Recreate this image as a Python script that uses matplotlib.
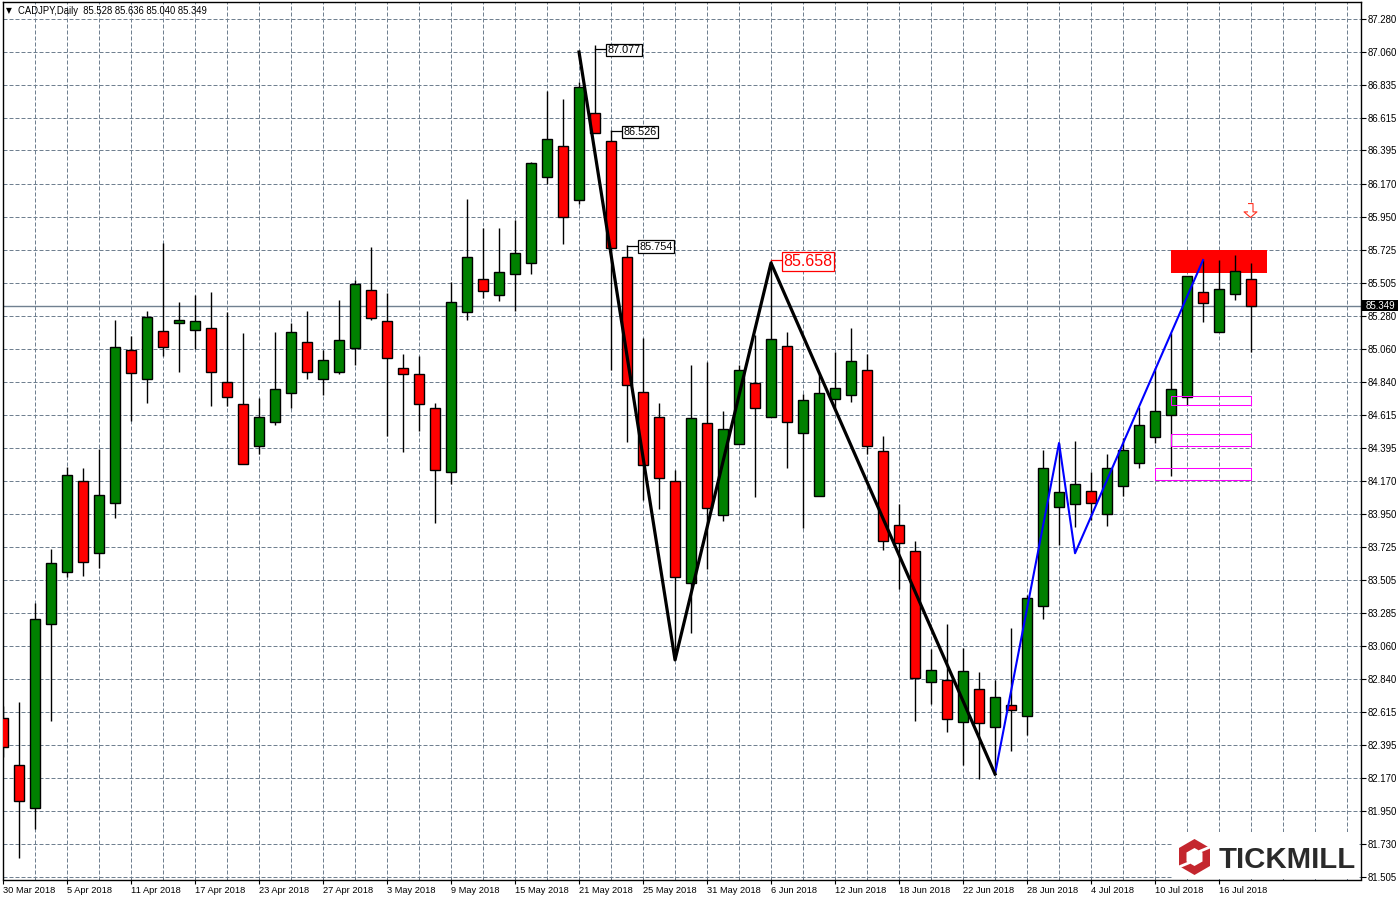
import matplotlib
matplotlib.use("Agg")
import matplotlib.pyplot as plt
from matplotlib.patches import Polygon, Rectangle
from matplotlib.transforms import ScaledTranslation

# daily CADJPY candles, one entry per bar
opens = [82.573, 82.257, 81.967, 83.206, 83.556, 84.170, 83.684, 84.020, 85.050, 84.855,
         85.178, 85.232, 85.185, 85.198, 84.835, 84.687, 84.408, 84.565, 84.761, 85.104,
         84.855, 84.902, 85.064, 85.454, 85.245, 84.929, 84.889, 84.660, 84.233, 85.306,
         85.528, 85.420, 85.562, 85.636, 86.215, 86.423, 86.060, 86.645, 86.457, 85.676,
         84.767, 84.599, 84.168, 83.482, 84.559, 83.939, 84.417, 84.828, 84.599, 85.077,
         84.491, 84.067, 84.720, 84.747, 84.915, 84.370, 83.872, 83.697, 82.815, 82.829,
         82.546, 82.768, 82.513, 82.661, 82.587, 83.327, 83.993, 84.014, 84.101, 83.946,
         84.135, 84.290, 84.465, 84.613, 84.734, 85.441, 85.171, 85.427, 85.528]
highs = [82.656, 82.683, 83.349, 83.713, 84.265, 84.258, 84.386, 85.254, 85.146, 85.315,
         85.770, 85.375, 85.422, 85.443, 85.308, 85.165, 84.727, 85.171, 85.232, 85.313,
         85.050, 85.387, 85.523, 85.743, 85.434, 85.025, 85.010, 84.693, 85.508, 86.067,
         85.871, 85.871, 85.927, 86.318, 86.793, 86.740, 86.858, 87.105, 86.533, 85.759,
         85.131, 84.693, 84.242, 84.949, 84.969, 84.640, 84.949, 85.153, 85.658, 85.171,
         84.756, 84.884, 85.041, 85.198, 85.023, 84.473, 84.016, 83.765, 83.040, 83.206,
         83.044, 82.883, 82.829, 83.179, 83.401, 84.377, 84.426, 84.438, 84.231, 84.350,
         84.460, 84.671, 84.929, 85.165, 85.548, 85.658, 85.658, 85.692, 85.636]
lows = [82.313, 81.635, 81.830, 82.557, 83.526, 83.533, 83.583, 83.923, 84.576, 84.697,
        85.014, 84.906, 85.061, 84.677, 84.675, 84.283, 84.352, 84.549, 84.664, 84.859,
        84.751, 84.893, 84.953, 85.256, 84.473, 84.368, 84.509, 83.890, 84.150, 85.256,
        85.400, 85.384, 85.317, 85.566, 86.169, 85.768, 86.033, 86.511, 84.918, 84.435,
        84.042, 83.984, 82.966, 83.149, 83.576, 83.903, 84.417, 84.065, 84.599, 84.260,
        83.856, 84.067, 84.662, 84.704, 84.350, 83.706, 83.446, 82.557, 82.669, 82.483,
        82.259, 82.167, 82.203, 82.355, 82.459, 83.244, 83.740, 83.863, 83.908, 83.868,
        84.069, 84.258, 84.428, 84.206, 84.682, 85.243, 85.171, 85.391, 85.040]
closes = [82.378, 82.014, 83.239, 83.618, 84.209, 83.623, 84.074, 85.070, 84.895, 85.272,
          85.070, 85.252, 85.245, 84.902, 84.734, 84.283, 84.599, 84.788, 85.171, 84.902,
          84.983, 85.117, 85.494, 85.266, 84.996, 84.889, 84.687, 84.242, 85.373, 85.676,
          85.447, 85.575, 85.703, 86.309, 86.470, 85.945, 86.820, 86.511, 85.737, 84.815,
          84.276, 84.189, 83.522, 84.592, 83.987, 84.518, 84.915, 84.660, 85.124, 84.565,
          84.714, 84.761, 84.794, 84.976, 84.404, 83.765, 83.751, 82.842, 82.896, 82.566,
          82.889, 82.539, 82.714, 82.627, 83.381, 84.256, 84.094, 84.148, 84.020, 84.256,
          84.377, 84.545, 84.640, 84.788, 85.548, 85.366, 85.461, 85.582, 85.349]

y_ticks = [87.280, 87.060, 86.835, 86.615, 86.395, 86.170, 85.950, 85.725, 85.505, 85.280,
           85.060, 84.840, 84.615, 84.395, 84.170, 83.950, 83.725, 83.505, 83.285, 83.060,
           82.840, 82.615, 82.395, 82.170, 81.950, 81.730, 81.505]
date_labels = ["30 Mar 2018", "5 Apr 2018", "11 Apr 2018", "17 Apr 2018", "23 Apr 2018",
               "27 Apr 2018", "3 May 2018", "9 May 2018", "15 May 2018", "21 May 2018",
               "25 May 2018", "31 May 2018", "6 Jun 2018", "12 Jun 2018", "18 Jun 2018",
               "22 Jun 2018", "28 Jun 2018", "4 Jul 2018", "10 Jul 2018", "16 Jul 2018"]

# hand drawn objects on the chart
zigzag_bars = [36, 42, 48, 62]
zigzag_prices = [87.058, 82.966, 85.638, 82.198]
blue_bars = [62, 66, 67, 75]
blue_prices = [82.198, 84.426, 83.684, 85.658]
box_bars = [(73, 78), (73, 78), (72, 78)]
box_prices = [(84.680, 84.745), (84.404, 84.485), (84.175, 84.256)]
last_price = 85.349

GRID = "#708090"
FONT = "Liberation Sans"
W, H = 1400, 900


def px(x, y):
    return x / W, 1 - y / H


fig = plt.figure(figsize=(14, 9), dpi=100, facecolor="white")
ax = fig.add_axes([2.5 / W, 1 - 879.5 / H, 1358 / W, 877.5 / H])
ax.set_xlim(-0.03125, 84.84)
ax.set_ylim(81.488, 87.3945)
for s in ax.spines.values():
    s.set_linewidth(1.0)
    s.set_color("black")

# grid
for p in y_ticks:
    ax.axhline(p, color=GRID, lw=0.72, ls=(0, (4, 2)), zorder=1)
for i in range(2, 85, 2):
    ax.axvline(i, color=GRID, lw=0.72, ls=(0, (4, 2)), zorder=1)
ax.axhline(last_price, color=GRID, lw=1.0, zorder=1.5)

# supply zone sits under the candles
ax.add_patch(Rectangle((73, 85.572), 6, 0.155, fc="#ff0000", ec="none", zorder=2))

# candles
for i in range(len(opens)):
    up = closes[i] >= opens[i]
    ax.vlines(i, lows[i], highs[i], color="black", lw=1.0, zorder=3)
    ax.bar(i, abs(closes[i] - opens[i]), bottom=min(opens[i], closes[i]), width=0.625,
           color="#008000" if up else "#ff0000", edgecolor="black", linewidth=1.0, zorder=4)

for (x0, x1), (p0, p1) in zip(box_bars, box_prices):
    ax.add_patch(Rectangle((x0, p0), x1 - x0, p1 - p0, fc="none", ec="#ff00ff", lw=0.75, zorder=5))

ax.plot(blue_bars, blue_prices, color="#0000ff", lw=1.5, zorder=6)
ax.plot(zigzag_bars, zigzag_prices, color="black", lw=2.3, zorder=7)

# price labels
for bar, price, cx, txt in [(37, 87.077, 38.8, "87.077"), (38, 86.526, 39.8, "86.526"),
                            (39, 85.754, 40.8, "85.754")]:
    ax.plot([bar, cx], [price, price], color="black", lw=0.9, zorder=7)
    ax.text(cx, price, txt, ha="center", va="center_baseline", fontsize=7.8, family=FONT, color="black", zorder=8,
            bbox=dict(boxstyle="square,pad=0.12", fc="white", ec="black", lw=0.9))
ax.plot([48, 50.3], [85.658, 85.658], color="#ff0000", lw=0.9, zorder=7)
ax.text(50.3, 85.658, "85.658", ha="center", va="center_baseline", fontsize=11.5, family=FONT, color="#ff0000", zorder=8,
        bbox=dict(boxstyle="square,pad=0.1", fc="white", ec="#ff0000", lw=0.9))

# sell arrow
arrow = [(-0.36, 1), (0.36, 1), (0.36, -0.2), (0.93, -0.2), (0, -1), (-0.93, -0.2), (-0.36, -0.2)]
ax.scatter([77.95], [85.992], marker=arrow, s=100, facecolor="white", edgecolor="#ff3020", linewidth=0.8, zorder=8)

# axes
ax.yaxis.tick_right()
ax.set_yticks(y_ticks)
ax.set_yticklabels(["%.3f" % p for p in y_ticks], fontsize=6.9, family=FONT)
ax.set_xticks(range(0, 80, 4))
ax.set_xticklabels(date_labels, fontsize=6.7, family=FONT, ha="left")
shift = ScaledTranslation(-1 / 100, 0, fig.dpi_scale_trans)
for lab in ax.get_xticklabels():
    lab.set_transform(lab.get_transform() + shift)
ax.tick_params(axis="y", length=3.5, width=0.8, pad=1.5)
ax.tick_params(axis="x", length=3, width=0.8, pad=1.5)

fig.add_artist(Rectangle(px(1362, 311), 36 / W, 11 / H, transform=fig.transFigure, fc="black", ec="none", zorder=5))
fig.text(*px(1380, 305.6), "85.349", color="white", fontsize=7, family=FONT, ha="center", va="center", zorder=6)

# header
fig.text(*px(5.5, 10.5), "\u25bc", fontsize=5.5, family="DejaVu Sans", va="center", color="black")
fig.text(*px(18, 10.5), "CADJPY,Daily  85.528 85.636 85.040 85.349", fontsize=6.85, family=FONT,
         va="center", color="black")

# logo
fig.add_artist(Rectangle(px(1172, 879), 187 / W, 47 / H, transform=fig.transFigure, fc="white", ec="none", zorder=5))
cx, cy = 1194.5, 857
outer = [(0, -18), (15.5, -9), (15.5, 9), (0, 18), (-15.5, 9), (-15.5, -9)]
inner = [(0, -9), (8, -4.5), (8, 4.5), (0, 9), (-8, 4.5), (-8, -4.5)]
fig.add_artist(Polygon([px(cx + a, cy + b) for a, b in outer], transform=fig.transFigure, fc="#c4262e", ec="none", zorder=6))
fig.add_artist(Polygon([px(cx + a, cy + b) for a, b in inner], transform=fig.transFigure, fc="white", ec="none", zorder=7))
for a, b in [((6, -6), (18, -11)), ((-18, 11), (-6, 6))]:
    fig.add_artist(plt.Line2D(*zip(px(cx + a[0], cy + a[1]), px(cx + b[0], cy + b[1])), transform=fig.transFigure,
                              color="white", lw=2.0, zorder=8))
fig.text(*px(1219, 868), "TICKMILL", fontsize=21.2, family=FONT, fontweight="bold", color="#2a2a2a",
         ha="left", va="baseline", zorder=8)

fig.savefig("out.png", dpi=100, facecolor="white")
